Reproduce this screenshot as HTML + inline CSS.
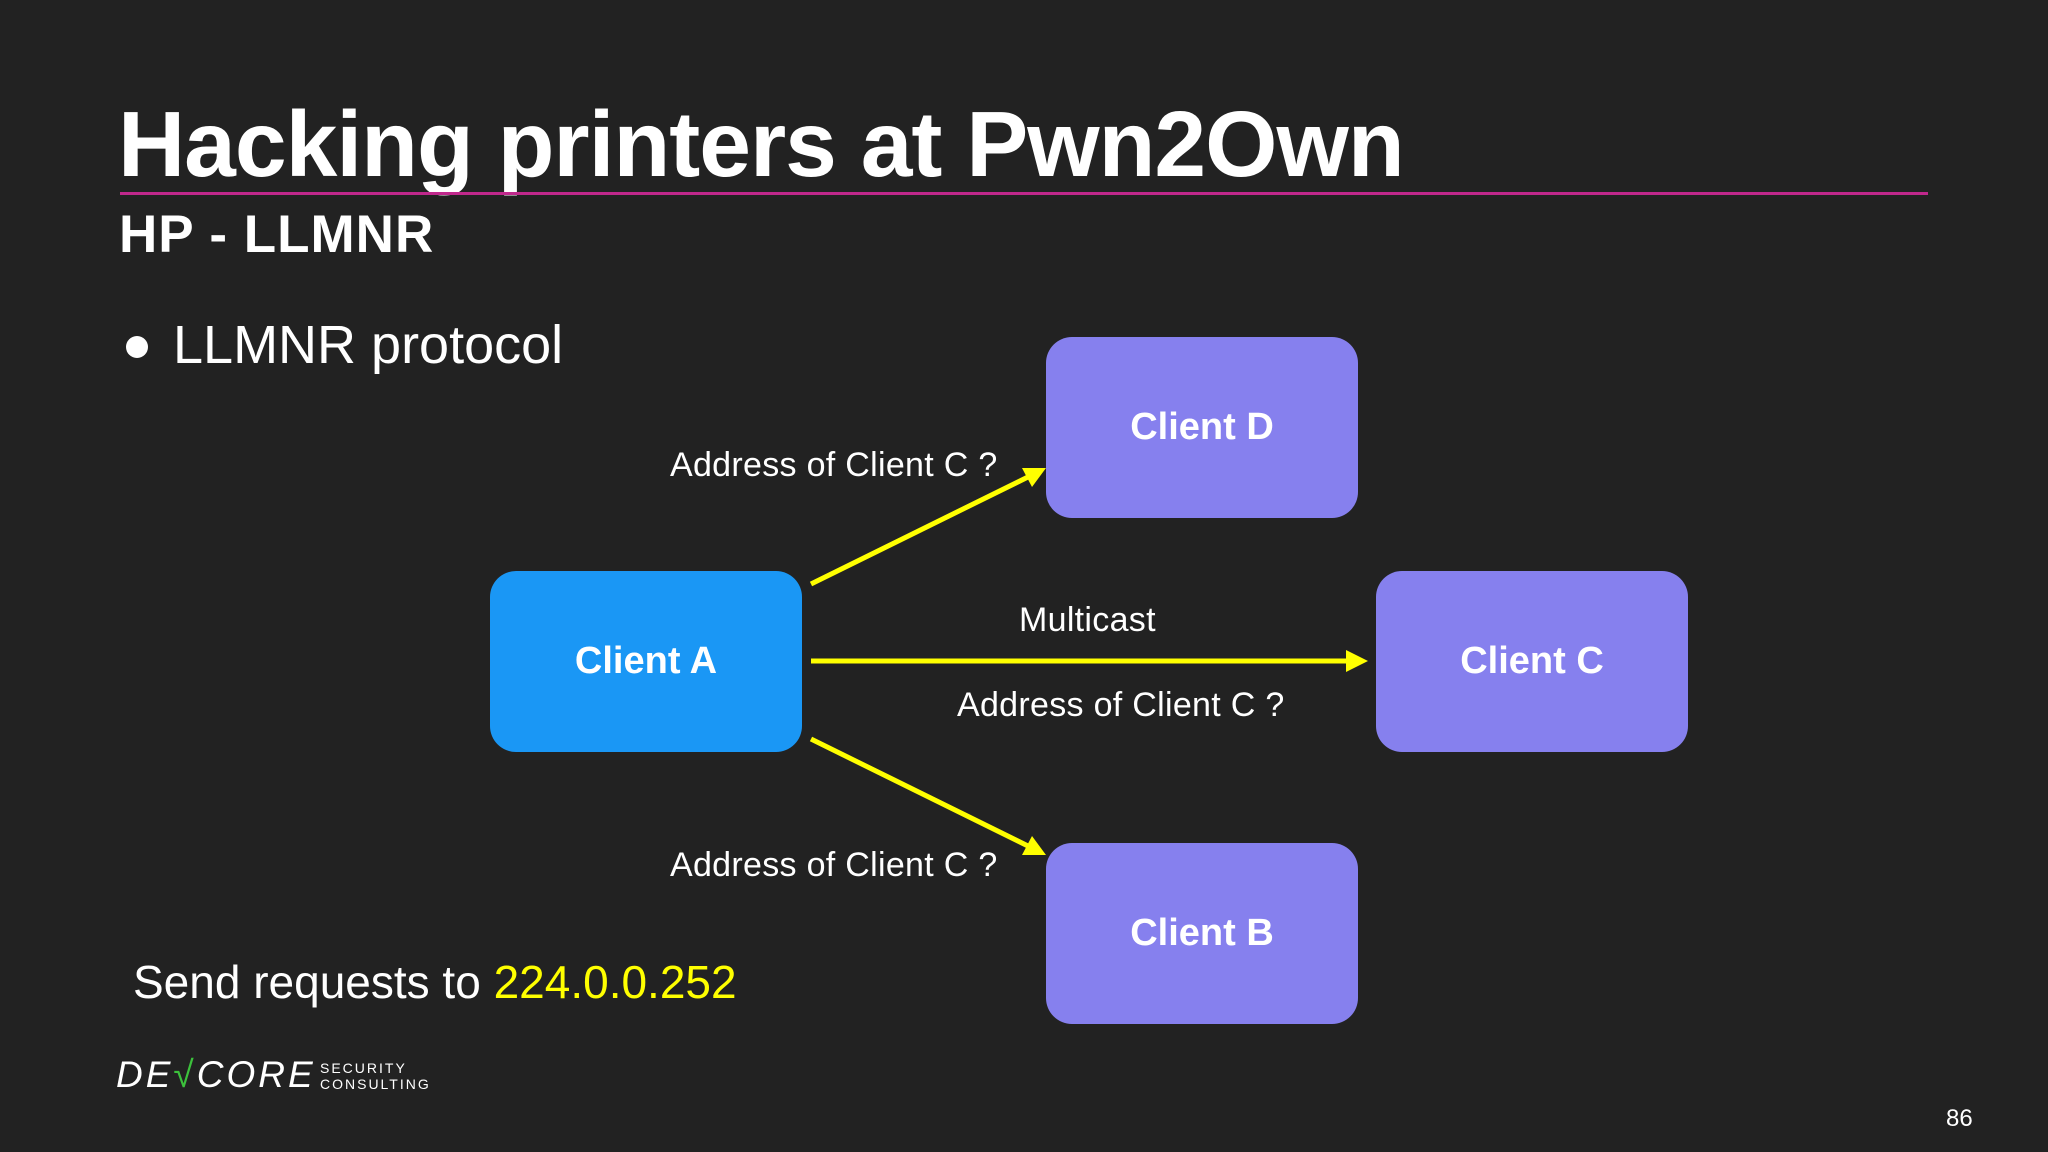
<!DOCTYPE html>
<html><head><meta charset="utf-8"><style>
body{margin:0;width:2048px;height:1152px;background:#222222;overflow:hidden;position:relative;font-family:"Liberation Sans",sans-serif;color:#fff}
.t{position:absolute;white-space:nowrap;line-height:1}
.box{position:absolute;width:312px;height:181px;border-radius:26px;background:#8680ee;display:flex;align-items:center;justify-content:center;font-weight:bold;font-size:38px;color:#fff}
.lab{font-size:34px;letter-spacing:0.3px}
</style></head><body>
<div class="t" style="left:118px;top:98px;font-size:93px;font-weight:bold;letter-spacing:-1px">Hacking printers at Pwn2Own</div>
<div style="position:absolute;left:120px;top:192px;width:1808px;height:3px;background:#c0288c"></div>
<div class="t" style="left:119px;top:208px;font-size:53px;font-weight:bold;letter-spacing:1px">HP - LLMNR</div>
<div style="position:absolute;left:126px;top:336px;width:22px;height:22px;border-radius:50%;background:#fff"></div>
<div class="t" style="left:173px;top:318px;font-size:54px">LLMNR protocol</div>
<div class="box" style="left:1046px;top:337px">Client D</div>
<div class="box" style="left:490px;top:571px;background:#1a97f5">Client A</div>
<div class="box" style="left:1376px;top:571px">Client C</div>
<div class="box" style="left:1046px;top:843px">Client B</div>
<svg width="2048" height="1152" style="position:absolute;left:0;top:0">
<g stroke="#ffff00" stroke-width="5" fill="#ffff00">
<line x1="811" y1="584" x2="1030" y2="476"/>
<polygon points="1046,468 1022,468 1032,487" stroke="none"/>
<line x1="811" y1="661" x2="1350" y2="661"/>
<polygon points="1368,661 1346,650 1346,672" stroke="none"/>
<line x1="811" y1="739" x2="1030" y2="847"/>
<polygon points="1046,855 1032,836 1022,855" stroke="none"/>
</g></svg>
<div class="t lab" style="left:670px;top:448px">Address of Client C ?</div>
<div class="t lab" style="left:1019px;top:603px">Multicast</div>
<div class="t lab" style="left:957px;top:688px">Address of Client C ?</div>
<div class="t lab" style="left:670px;top:848px">Address of Client C ?</div>
<div class="t" style="left:133px;top:959px;font-size:46px">Send requests to <span style="color:#ffff00">224.0.0.252</span></div>
<div class="t" style="left:116px;top:1056px;font-size:37px;font-style:italic;letter-spacing:3px">DE<span style="color:#3cc13c;font-style:normal">√</span>CORE</div>
<div class="t" style="left:320px;top:1060px;font-size:14px;letter-spacing:2px;line-height:16px">SECURITY<br>CONSULTING</div>
<div class="t" style="left:1946px;top:1107px;font-size:24px">86</div>
</body></html>
